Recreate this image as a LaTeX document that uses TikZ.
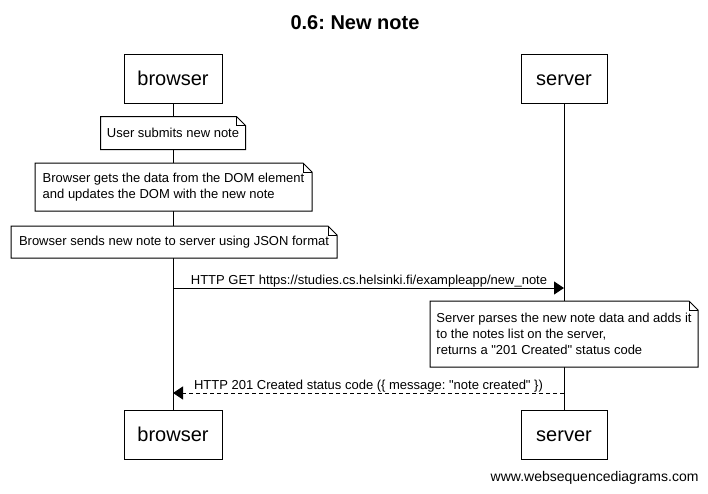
\documentclass[tikz,border=0pt]{standalone}
\usepackage{fontspec}
\setmainfont{Liberation Sans}[Ligatures=TeXOff]
\frenchspacing
\usetikzlibrary{arrows.meta}
\newcommand\notefold[1]{%
  \draw[fill=white] (#1.north west) -- ([xshift=-9pt]#1.north east) -- ([yshift=-9pt]#1.north east) -- (#1.south east) -- (#1.south west) -- cycle;
  \draw ([xshift=-9pt]#1.north east) -- ([xshift=-9pt,yshift=-9pt]#1.north east) -- ([yshift=-9pt]#1.north east);
}
\begin{document}
\begin{tikzpicture}[x=1pt,y=-1pt,line width=1pt,
  actor/.style={draw,fill=white,inner sep=0pt,outer sep=0pt,minimum height=49pt,text height=14.5pt,text depth=1.5pt,font=\fontsize{20}{24}\selectfont},
  notebox/.style={inner sep=0pt,outer sep=0pt,align=left,font=\fontsize{13}{16}\selectfont},
  msglabel/.style={anchor=base,inner sep=0pt,font=\fontsize{13}{16}\selectfont},
  msg/.style={-{Triangle[length=10pt,width=13pt]}},
  reply/.style={-{Triangle[length=10pt,width=13pt]},dash pattern=on 4pt off 3pt}]
\useasboundingbox (0,0) rectangle (708,493);
% title
\node[anchor=base,font=\fontsize{20}{24}\selectfont\bfseries] (title) at (355,29.5) {0.6: New note};
% participants
\node[actor,minimum width=98pt] (btop) at (173,78.5) {browser};
\node[actor,minimum width=86pt] (stop) at (564,78.5) {server};
\node[actor,minimum width=98pt] (bbot) at (173,435) {browser};
\node[actor,minimum width=86pt] (sbot) at (564,435) {server};
% lifelines
\draw (btop.south) -- (bbot.north);
\draw (stop.south) -- (sbot.north);
% notes
\node[notebox,minimum width=145pt,minimum height=33pt] (n1) at (173,133) {\phantom{|}};
\notefold{n1}
\node[notebox] (n1t) at (n1) {User submits new note};
\node[notebox,minimum width=277pt,minimum height=48pt] (n2) at (173.5,187) {\phantom{|}};
\notefold{n2}
\node[notebox] (n2t) at (n2) {Browser gets the data from the DOM element\\and updates the DOM with the new note};
\node[notebox,minimum width=326pt,minimum height=32pt] (n3) at (174,242) {\phantom{|}};
\notefold{n3}
\node[notebox] (n3t) at (n3) {Browser sends new note to server using JSON format};
% message 1
\coordinate (m1b) at (173,288);
\coordinate (m1s) at (564,288);
\draw[msg] (m1b) -- (m1s);
\node[msglabel] (l1) at (369,284.5) {HTTP GET https://studies.cs.helsinki.fi/exampleapp/new\_note};
% server note
\node[notebox,minimum width=268pt,minimum height=66pt] (n4) at (564,334) {\phantom{|}};
\notefold{n4}
\node[notebox] (n4t) at (n4) {Server parses the new note data and adds it\\to the notes list on the server,\\returns a "201 Created" status code};
% reply
\coordinate (m2s) at (564,393);
\coordinate (m2b) at (173,393);
\draw[reply] (m2s) -- (m2b);
\node[msglabel] (l2) at (368.5,389.5) {HTTP 201 Created status code (\{ message: "note created" \})};
% footer
\node[anchor=base east,inner sep=0pt,font=\fontsize{14}{17}\selectfont] (footer) at (699,481) {www.websequencediagrams.com};
\end{tikzpicture}
\end{document}
